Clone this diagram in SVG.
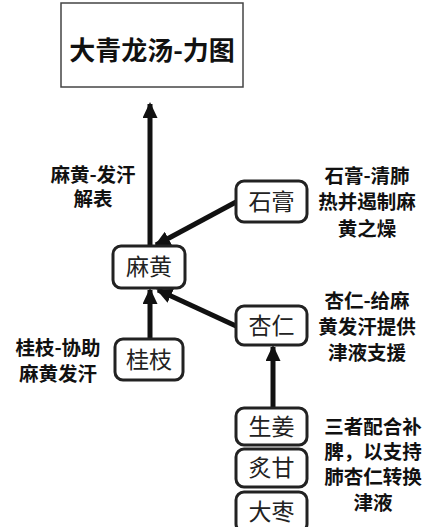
<svg xmlns="http://www.w3.org/2000/svg" width="431" height="527" viewBox="0 0 431 527">
<style>
.box{fill:#fff;stroke:#222;stroke-width:3}
.bt{font-family:"Noto Sans CJK SC",sans-serif;font-size:23px;fill:#222;text-anchor:middle}
.lb{font-family:"Noto Sans CJK SC",sans-serif;font-size:19.5px;font-weight:bold;fill:#111;text-anchor:middle}
.cn{stroke:#111;stroke-width:5;fill:none;marker-end:url(#ah)}
</style>
<defs>
<marker id="ah" markerUnits="userSpaceOnUse" markerWidth="16" markerHeight="15" refX="14" refY="7.5" orient="auto">
<path d="M0,0 L16,7.5 L0,15 z" fill="#111"/>
</marker>
</defs>
<rect width="431" height="527" fill="#fff"/>
<g id="title">
<rect x="61" y="3" width="182" height="84" fill="#fff" stroke="#444" stroke-width="1.5"/>
<text x="152" y="60" font-family="Noto Sans CJK SC,sans-serif" font-size="26" font-weight="bold" fill="#111" text-anchor="middle">大青龙汤-力图</text>
</g>
<g id="connectors">
<line class="cn" x1="150" y1="246" x2="150" y2="104"/>
<line class="cn" x1="236" y1="202" x2="156" y2="245"/>
<line class="cn" x1="150" y1="338" x2="150" y2="290"/>
<line class="cn" x1="236" y1="326" x2="158" y2="290"/>
<line class="cn" x1="273" y1="407" x2="273" y2="347"/>
</g>
<g id="label-mahuang">
<text class="lb" x="93" y="182">麻黄-发汗</text>
<text class="lb" x="93" y="206">解表</text>
</g>
<g id="label-shigao">
<text class="lb" x="367" y="183">石膏-清肺</text>
<text class="lb" x="367" y="209">热并遏制麻</text>
<text class="lb" x="367" y="236">黄之燥</text>
</g>
<g id="label-xingren">
<text class="lb" x="367" y="308">杏仁-给麻</text>
<text class="lb" x="367" y="334">黄发汗提供</text>
<text class="lb" x="367" y="360">津液支援</text>
</g>
<g id="label-guizhi">
<text class="lb" x="58" y="355">桂枝-协助</text>
<text class="lb" x="58" y="381">麻黄发汗</text>
</g>
<g id="label-three">
<text class="lb" x="373" y="434">三者配合补</text>
<text class="lb" x="373" y="459">脾，以支持</text>
<text class="lb" x="373" y="484">肺杏仁转换</text>
<text class="lb" x="373" y="510">津液</text>
</g>
<g id="node-mahuang"><rect class="box" x="113" y="246" width="72" height="42" rx="8"/><text class="bt" x="149" y="275">麻黄</text></g>
<g id="node-shigao"><rect class="box" x="236" y="181" width="71" height="41" rx="8"/><text class="bt" x="271.5" y="210">石膏</text></g>
<g id="node-guizhi"><rect class="box" x="115" y="339" width="68" height="41" rx="8"/><text class="bt" x="149" y="368">桂枝</text></g>
<g id="node-xingren"><rect class="box" x="236" y="306" width="71" height="39" rx="8"/><text class="bt" x="271.5" y="334">杏仁</text></g>
<g id="node-shengjiang"><rect class="box" x="236" y="408" width="71" height="37" rx="8"/><text class="bt" x="271.5" y="435">生姜</text></g>
<g id="node-zhigan"><rect class="box" x="236" y="449" width="71" height="38" rx="8"/><text class="bt" x="271.5" y="476">炙甘</text></g>
<g id="node-dazao"><rect class="box" x="236" y="492" width="71" height="40" rx="8"/><text class="bt" x="271.5" y="520">大枣</text></g>
</svg>
